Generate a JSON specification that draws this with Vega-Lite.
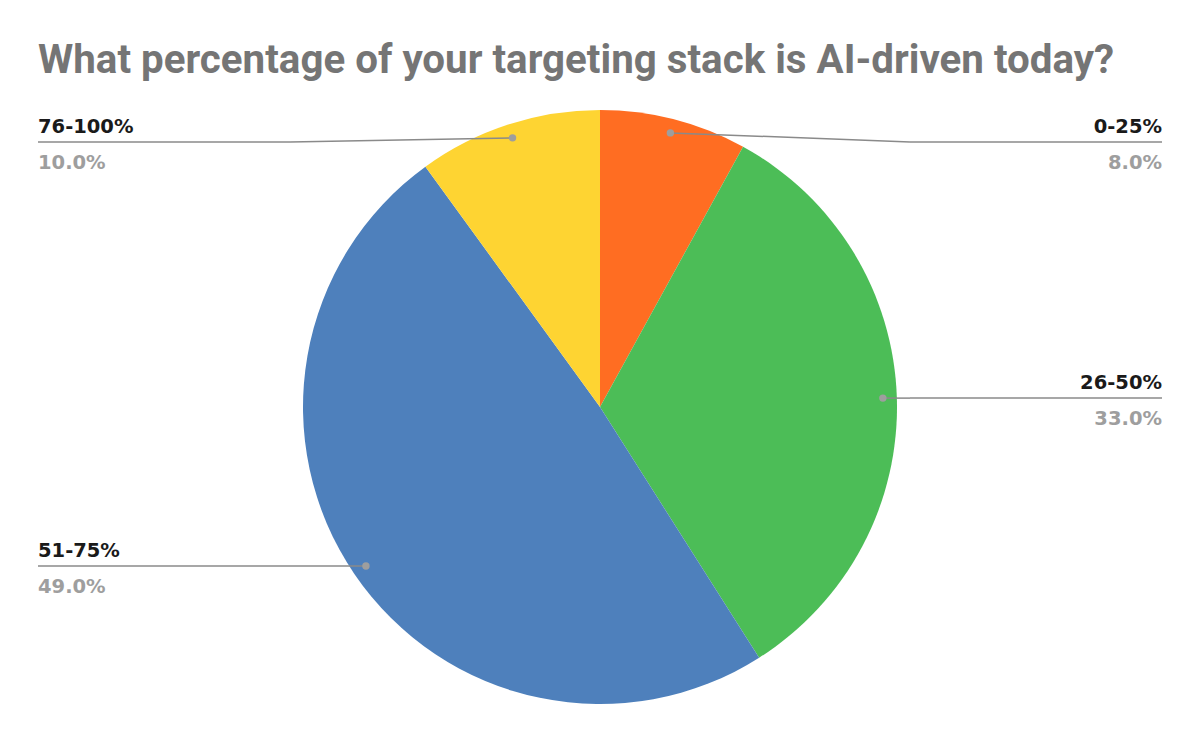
{
  "$schema": "https://vega.github.io/schema/vega-lite/v6.json",
  "width": 1200,
  "height": 670,
  "autosize": {"type": "none"},
  "padding": {"top": 72, "left": 0, "right": 0, "bottom": 0},
  "background": "#ffffff",
  "title": {
    "text": "What percentage of your targeting stack is AI-driven today?",
    "font": "Roboto",
    "fontSize": 40.3,
    "fontWeight": "bold",
    "color": "#757575",
    "anchor": "start",
    "dx": 38,
    "dy": 9,
    "offset": 0
  },
  "config": {"view": {"stroke": null}},
  "data": {
    "values": [
      {"category": "0-25%", "value": 8},
      {"category": "26-50%", "value": 33},
      {"category": "51-75%", "value": 49},
      {"category": "76-100%", "value": 10}
    ]
  },
  "transform": [
    {"window": [{"op": "sum", "field": "value", "as": "cum"}], "frame": [null, 0]},
    {"joinaggregate": [{"op": "sum", "field": "value", "as": "total"}]},
    {"calculate": "(datum.cum - datum.value / 2) / datum.total * 2 * PI", "as": "mid"},
    {"calculate": "283 * sin(datum.mid)", "as": "dotX"},
    {"calculate": "283 * cos(datum.mid)", "as": "dotY"},
    {"calculate": "datum.dotX >= 0 ? 1 : -1", "as": "side"},
    {"calculate": "min(datum.dotY, 265)", "as": "lineY"},
    {"calculate": "datum.side * 310", "as": "elbowX"},
    {"calculate": "datum.side * 562", "as": "endX"},
    {"calculate": "format(datum.value / datum.total * 100, '.1f') + '%'", "as": "pct"}
  ],
  "layer": [
    {
      "mark": {"type": "arc", "outerRadius": 297},
      "encoding": {
        "theta": {"field": "value", "type": "quantitative", "stack": true},
        "order": {"field": "category", "type": "nominal"},
        "color": {
          "field": "category",
          "type": "nominal",
          "scale": {
            "domain": ["0-25%", "26-50%", "51-75%", "76-100%"],
            "range": ["#ff6d22", "#4cbd57", "#4e80bc", "#fed432"]
          },
          "legend": null
        }
      }
    },
    {
      "mark": {"type": "rule", "color": "#8a8a8a", "strokeWidth": 1.5},
      "encoding": {
        "x": {"field": "dotX", "type": "quantitative", "scale": {"domain": [-600, 600], "nice": false, "zero": false}, "axis": null},
        "y": {"field": "dotY", "type": "quantitative", "scale": {"domain": [-335, 335], "nice": false, "zero": false}, "axis": null},
        "x2": {"field": "elbowX"},
        "y2": {"field": "lineY"}
      }
    },
    {
      "mark": {"type": "rule", "color": "#8a8a8a", "strokeWidth": 1.5},
      "encoding": {
        "x": {"field": "elbowX", "type": "quantitative"},
        "y": {"field": "lineY", "type": "quantitative"},
        "x2": {"field": "endX"}
      }
    },
    {
      "mark": {"type": "point", "filled": true, "color": "#9e9e9e", "opacity": 1, "size": 55},
      "encoding": {
        "x": {"field": "dotX", "type": "quantitative"},
        "y": {"field": "dotY", "type": "quantitative"}
      }
    },
    {
      "transform": [{"filter": "datum.side > 0"}],
      "mark": {"type": "text", "align": "right", "baseline": "alphabetic", "dy": -9, "font": "DejaVu Sans", "fontSize": 19.5, "fontWeight": "bold", "color": "#1a1a1a"},
      "encoding": {
        "x": {"field": "endX", "type": "quantitative"},
        "y": {"field": "lineY", "type": "quantitative"},
        "text": {"field": "category"}
      }
    },
    {
      "transform": [{"filter": "datum.side > 0"}],
      "mark": {"type": "text", "align": "right", "baseline": "alphabetic", "dy": 26.5, "font": "DejaVu Sans", "fontSize": 19.5, "fontWeight": "bold", "color": "#9e9e9e"},
      "encoding": {
        "x": {"field": "endX", "type": "quantitative"},
        "y": {"field": "lineY", "type": "quantitative"},
        "text": {"field": "pct"}
      }
    },
    {
      "transform": [{"filter": "datum.side < 0"}],
      "mark": {"type": "text", "align": "left", "baseline": "alphabetic", "dy": -9, "font": "DejaVu Sans", "fontSize": 19.5, "fontWeight": "bold", "color": "#1a1a1a"},
      "encoding": {
        "x": {"field": "endX", "type": "quantitative"},
        "y": {"field": "lineY", "type": "quantitative"},
        "text": {"field": "category"}
      }
    },
    {
      "transform": [{"filter": "datum.side < 0"}],
      "mark": {"type": "text", "align": "left", "baseline": "alphabetic", "dy": 26.5, "font": "DejaVu Sans", "fontSize": 19.5, "fontWeight": "bold", "color": "#9e9e9e"},
      "encoding": {
        "x": {"field": "endX", "type": "quantitative"},
        "y": {"field": "lineY", "type": "quantitative"},
        "text": {"field": "pct"}
      }
    }
  ]
}
